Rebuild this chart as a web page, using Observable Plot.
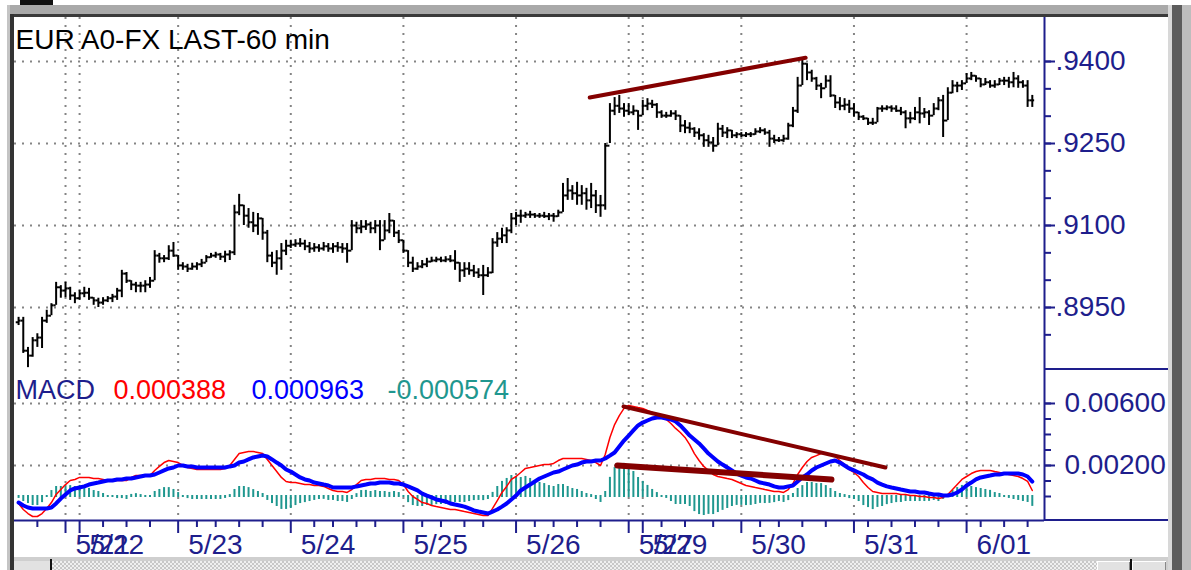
<!DOCTYPE html>
<html><head><meta charset="utf-8">
<script src="https://cdn.jsdelivr.net/npm/d3@7"></script>
<script src="https://cdn.jsdelivr.net/npm/@observablehq/plot@0.6"></script>
<style>
html,body{margin:0;padding:0;background:#fff;}
#root{position:relative;width:1191px;height:570px;overflow:hidden;background:#fff;}
.blk{position:absolute;}
</style></head><body><div id="root"></div>
<script>
// ---------- DATA ----------
const title = "EUR A0-FX LAST-60 min";
const dayStart = [10, 13, 34, 58, 82, 106, 130, 133, 154, 178, 202];
const dayLabel = ["5/21","5/22","5/23","5/24","5/25","5/26","5/27","5/29","5/30","5/31","6/01"];
const minorTicks = [4,18,23,28,38,42,47,52,63,67,72,76,86,90,95,99,110,114,119,124,137,142,148,158,162,167,172,181,186,191,196,205,210,215];
const priceMajor = [0.94, 0.925, 0.91, 0.895];
const priceTickLabels = [".9400", ".9250", ".9100", ".8950"];
const priceMinor = [0.89,0.895,0.9,0.905,0.91,0.915,0.92,0.925,0.93,0.935,0.94];
const macdMajor = [0.006, 0.002];
const macdTickLabels = ["0.00600", "0.00200"];
const macdMinor = [0,0.001,0.002,0.003,0.004,0.005,0.006];
const legendName = "MACD";
const legendValues = ["0.000388", "0.000963", "-0.000574"];

const open = [
.8923,.8926,.8871,.8862,.8890,.8895,.8926,.8935,.8954,.8987,
.8981,.8985,.8972,.8967,.8976,.8977,.8968,.8963,.8959,.8963,
.8967,.8970,.8981,.9012,.8999,.8992,.8990,.8990,.8992,.8999,
.9045,.9040,.9040,.9054,.9045,.9027,.9025,.9021,.9025,.9029,
.9032,.9042,.9045,.9047,.9043,.9047,.9051,.9124,.9137,.9118,
.9106,.9100,.9113,.9087,.9045,.9032,.9040,.9054,.9063,.9065,
.9067,.9067,.9062,.9058,.9060,.9058,.9062,.9058,.9062,.9060,
.9058,.9054,.9100,.9095,.9098,.9102,.9095,.9100,.9073,.9091,
.9109,.9087,.9073,.9054,.9032,.9021,.9025,.9029,.9034,.9036,
.9038,.9036,.9038,.9036,.9032,.9018,.9021,.9018,.9014,.9009,
.9009,.9014,.9069,.9076,.9082,.9091,.9113,.9118,.9118,.9120,
.9120,.9118,.9118,.9117,.9118,.9117,.9124,.9155,.9164,.9159,
.9155,.9159,.9146,.9155,.9137,.9137,.9246,.9310,.9319,.9314,
.9310,.9307,.9310,.9301,.9319,.9323,.9321,.9307,.9301,.9301,
.9305,.9301,.9283,.9279,.9277,.9270,.9265,.9256,.9252,.9246,
.9277,.9270,.9274,.9265,.9267,.9265,.9267,.9267,.9272,.9274,
.9270,.9259,.9256,.9256,.9259,.9283,.9310,.9356,.9396,.9380,
.9369,.9356,.9351,.9365,.9338,.9325,.9319,.9321,.9314,.9307,
.9299,.9296,.9288,.9288,.9314,.9314,.9316,.9314,.9310,.9307,
.9296,.9296,.9307,.9305,.9307,.9301,.9314,.9329,.9292,.9343,
.9356,.9356,.9360,.9369,.9374,.9369,.9358,.9362,.9356,.9358,
.9365,.9365,.9362,.9369,.9362,.9356,.9329];
const high = [
.8932,.8932,.8877,.8895,.8902,.8932,.8945,.8957,.8996,.8990,
.8996,.8987,.8977,.8981,.8987,.8985,.8968,.8967,.8968,.8970,
.8974,.8985,.9018,.9014,.8999,.8996,.8996,.8999,.9005,.9054,
.9049,.9045,.9063,.9069,.9045,.9032,.9029,.9031,.9032,.9038,
.9045,.9049,.9051,.9049,.9053,.9054,.9137,.9157,.9137,.9131,
.9124,.9122,.9113,.9091,.9051,.9054,.9067,.9073,.9073,.9074,
.9076,.9073,.9069,.9067,.9065,.9069,.9067,.9067,.9069,.9067,
.9067,.9109,.9106,.9109,.9109,.9106,.9109,.9109,.9109,.9122,
.9109,.9091,.9073,.9054,.9042,.9032,.9036,.9040,.9042,.9042,
.9042,.9043,.9045,.9054,.9032,.9032,.9032,.9027,.9021,.9027,
.9023,.9076,.9087,.9095,.9096,.9122,.9124,.9128,.9124,.9126,
.9122,.9122,.9124,.9122,.9122,.9128,.9177,.9186,.9173,.9179,
.9173,.9168,.9177,.9164,.9155,.9250,.9323,.9334,.9338,.9323,
.9323,.9319,.9310,.9329,.9332,.9329,.9323,.9310,.9307,.9310,
.9310,.9301,.9292,.9288,.9279,.9277,.9268,.9265,.9261,.9287,
.9283,.9279,.9274,.9270,.9270,.9270,.9270,.9277,.9279,.9277,
.9274,.9265,.9261,.9265,.9287,.9316,.9371,.9407,.9396,.9384,
.9371,.9360,.9374,.9374,.9338,.9334,.9332,.9329,.9323,.9307,
.9301,.9296,.9296,.9316,.9319,.9319,.9319,.9319,.9316,.9310,
.9307,.9316,.9334,.9314,.9310,.9323,.9334,.9338,.9352,.9365,
.9362,.9365,.9378,.9380,.9374,.9369,.9369,.9365,.9365,.9369,
.9371,.9371,.9380,.9374,.9365,.9365,.9338];
const low = [
.8917,.8866,.8840,.8859,.8877,.8875,.8921,.8935,.8954,.8967,
.8968,.8963,.8957,.8963,.8968,.8963,.8954,.8950,.8954,.8959,
.8959,.8963,.8968,.8994,.8981,.8977,.8977,.8977,.8985,.8999,
.9031,.9032,.9036,.9042,.9018,.9018,.9014,.9018,.9018,.9023,
.9032,.9040,.9040,.9036,.9032,.9036,.9045,.9118,.9100,.9095,
.9087,.9082,.9073,.9032,.9023,.9009,.9018,.9045,.9058,.9060,
.9060,.9054,.9049,.9051,.9051,.9053,.9051,.9049,.9051,.9049,
.9031,.9054,.9085,.9085,.9091,.9085,.9085,.9054,.9073,.9085,
.9078,.9067,.9049,.9023,.9014,.9018,.9021,.9023,.9032,.9032,
.9032,.9032,.9032,.9018,.8996,.9005,.9009,.9005,.9003,.8972,
.9005,.9012,.9060,.9067,.9067,.9085,.9100,.9104,.9113,.9113,
.9113,.9113,.9113,.9109,.9106,.9115,.9124,.9146,.9146,.9137,
.9137,.9128,.9131,.9122,.9115,.9128,.9250,.9301,.9305,.9298,
.9301,.9301,.9274,.9301,.9310,.9314,.9296,.9296,.9296,.9298,
.9292,.9270,.9268,.9268,.9261,.9256,.9243,.9243,.9234,.9246,
.9261,.9259,.9259,.9259,.9261,.9261,.9261,.9265,.9268,.9265,
.9243,.9250,.9252,.9252,.9256,.9279,.9305,.9356,.9365,.9362,
.9347,.9332,.9351,.9334,.9314,.9310,.9310,.9305,.9298,.9292,
.9292,.9283,.9283,.9288,.9307,.9310,.9307,.9307,.9301,.9277,
.9286,.9292,.9286,.9296,.9283,.9301,.9310,.9261,.9292,.9341,
.9343,.9347,.9360,.9365,.9362,.9352,.9356,.9351,.9351,.9356,
.9356,.9351,.9352,.9351,.9351,.9316,.9316];
const close = [
.8926,.8871,.8862,.8890,.8895,.8926,.8935,.8954,.8987,.8981,
.8985,.8972,.8967,.8976,.8977,.8968,.8963,.8959,.8963,.8967,
.8970,.8981,.9012,.8999,.8992,.8990,.8990,.8992,.8999,.9045,
.9040,.9040,.9054,.9045,.9027,.9025,.9021,.9025,.9029,.9032,
.9042,.9045,.9047,.9043,.9047,.9051,.9124,.9137,.9118,.9106,
.9100,.9113,.9087,.9045,.9032,.9040,.9054,.9063,.9065,.9067,
.9067,.9062,.9058,.9060,.9058,.9062,.9058,.9062,.9060,.9058,
.9054,.9100,.9095,.9098,.9102,.9095,.9100,.9073,.9091,.9109,
.9087,.9073,.9054,.9032,.9021,.9025,.9029,.9034,.9036,.9038,
.9036,.9038,.9036,.9032,.9018,.9021,.9018,.9014,.9009,.9009,
.9014,.9069,.9076,.9082,.9091,.9113,.9118,.9118,.9120,.9120,
.9118,.9118,.9117,.9118,.9117,.9124,.9155,.9164,.9159,.9155,
.9159,.9146,.9155,.9137,.9137,.9246,.9310,.9319,.9314,.9310,
.9307,.9310,.9301,.9319,.9323,.9321,.9307,.9301,.9301,.9305,
.9301,.9283,.9279,.9277,.9270,.9265,.9256,.9252,.9246,.9277,
.9270,.9274,.9265,.9267,.9265,.9267,.9267,.9272,.9274,.9270,
.9259,.9256,.9256,.9259,.9283,.9310,.9356,.9396,.9380,.9369,
.9356,.9351,.9365,.9338,.9325,.9319,.9321,.9314,.9307,.9299,
.9296,.9288,.9288,.9314,.9314,.9316,.9314,.9310,.9307,.9296,
.9296,.9307,.9305,.9307,.9301,.9314,.9329,.9292,.9343,.9356,
.9356,.9360,.9369,.9374,.9369,.9358,.9362,.9356,.9358,.9365,
.9365,.9362,.9369,.9362,.9356,.9329,.9329];

const macd = [
-0.00045,-0.00084,-0.00110,-0.00129,-0.00129,-0.00110,-0.00077,-0.00039,0.00013,0.00045,
0.00077,0.00103,0.00110,0.00123,0.00123,0.00123,0.00116,0.00116,0.00110,0.00103,
0.00103,0.00103,0.00103,0.00103,0.00123,0.00135,0.00135,0.00135,0.00135,0.00168,
0.00194,0.00219,0.00232,0.00226,0.00219,0.00200,0.00187,0.00181,0.00174,0.00174,
0.00174,0.00174,0.00174,0.00174,0.00181,0.00200,0.00239,0.00277,0.00284,0.00290,
0.00290,0.00284,0.00277,0.00239,0.00200,0.00161,0.00123,0.00097,0.00090,0.00090,
0.00084,0.00077,0.00077,0.00071,0.00071,0.00065,0.00052,0.00039,0.00032,0.00032,
0.00026,0.00045,0.00077,0.00103,0.00110,0.00110,0.00116,0.00116,0.00116,0.00110,
0.00110,0.00103,0.00077,0.00032,0,-0.00019,-0.00039,-0.00045,-0.00058,-0.00065,
-0.00071,-0.00077,-0.00084,-0.00084,-0.00090,-0.00097,-0.00103,-0.00110,-0.00116,-0.00123,
-0.00123,-0.00077,-0.00026,0.00026,0.00065,0.00110,0.00129,0.00155,0.00181,0.00187,
0.00194,0.00200,0.00206,0.00206,0.00213,0.00232,0.00245,0.00245,0.00245,0.00245,
0.00245,0.00239,0.00232,0.00219,0.00200,0.00271,0.00381,0.00464,0.00522,0.00568,
0.00587,0.00581,0.00574,0.00568,0.00555,0.00542,0.00529,0.00510,0.00497,0.00471,
0.00439,0.00413,0.00381,0.00335,0.00277,0.00232,0.00194,0.00168,0.00142,0.00129,
0.00123,0.00116,0.00110,0.00097,0.00084,0.00071,0.00065,0.00058,0.00052,0.00045,
0.00039,0.00032,0.00032,0.00026,0.00045,0.00084,0.00142,0.00187,0.00226,0.00252,
0.00264,0.00277,0.00277,0.00271,0.00258,0.00232,0.00206,0.00174,0.00155,0.00129,
0.00090,0.00058,0.00032,0.00026,0.00019,0.00019,0.00019,0.00019,0.00013,0.00013,
0.00006,0.00006,0,0,-0.00006,-0.00006,-0.00013,-0.00006,0.00013,0.00045,
0.00077,0.00110,0.00129,0.00148,0.00161,0.00168,0.00168,0.00168,0.00161,0.00155,
0.00148,0.00142,0.00135,0.00129,0.00116,0.00097,0.000388];
const signal = [
-0.00039,-0.00058,-0.00071,-0.00077,-0.00077,-0.00077,-0.00077,-0.00071,-0.00045,-0.00013,
0.00013,0.00039,0.00052,0.00058,0.00065,0.00077,0.00084,0.00090,0.00097,0.00103,
0.00103,0.00110,0.00110,0.00116,0.00116,0.00123,0.00129,0.00135,0.00135,0.00142,
0.00155,0.00168,0.00181,0.00187,0.00200,0.00200,0.00194,0.00194,0.00187,0.00187,
0.00187,0.00187,0.00187,0.00187,0.00187,0.00194,0.00200,0.00219,0.00226,0.00239,
0.00252,0.00258,0.00264,0.00258,0.00239,0.00219,0.00200,0.00174,0.00161,0.00142,
0.00123,0.00110,0.00103,0.00090,0.00084,0.00077,0.00071,0.00058,0.00058,0.00058,
0.00058,0.00058,0.00065,0.00071,0.00077,0.00084,0.00084,0.00090,0.00090,0.00090,
0.00084,0.00084,0.00077,0.00065,0.00052,0.00039,0.00019,0.00006,-0.00006,-0.00019,
-0.00026,-0.00032,-0.00045,-0.00052,-0.00058,-0.00065,-0.00077,-0.00090,-0.00097,-0.00103,
-0.00110,-0.00097,-0.00084,-0.00065,-0.00045,-0.00019,0.00006,0.00039,0.00058,0.00077,
0.00097,0.00116,0.00129,0.00142,0.00155,0.00161,0.00174,0.00187,0.00200,0.00206,
0.00219,0.00226,0.00226,0.00232,0.00232,0.00245,0.00264,0.00284,0.00323,0.00361,
0.00393,0.00426,0.00458,0.00477,0.00490,0.00503,0.00510,0.00510,0.00503,0.00497,
0.00484,0.00458,0.00426,0.00393,0.00368,0.00342,0.00310,0.00277,0.00252,0.00226,
0.00206,0.00187,0.00168,0.00148,0.00135,0.00123,0.00116,0.00103,0.00090,0.00084,
0.00077,0.00065,0.00058,0.00058,0.00065,0.00071,0.00097,0.00123,0.00142,0.00168,
0.00187,0.00200,0.00213,0.00226,0.00232,0.00219,0.00200,0.00181,0.00168,0.00155,
0.00142,0.00123,0.00110,0.00090,0.00077,0.00065,0.00058,0.00052,0.00045,0.00039,
0.00032,0.00032,0.00026,0.00026,0.00019,0.00013,0.00013,0.00006,0.00006,0.00013,
0.00026,0.00045,0.00071,0.00090,0.00110,0.00123,0.00129,0.00135,0.00142,0.00142,
0.00148,0.00148,0.00148,0.00148,0.00142,0.00129,0.000963];
const hist = [
-0.00006,-0.00026,-0.00039,-0.00052,-0.00052,-0.00033,0,0.00032,0.00058,0.00058,
0.00064,0.00064,0.00058,0.00065,0.00058,0.00046,0.00032,0.00026,0.00013,0,
0,-0.00007,-0.00007,-0.00013,0.00007,0.00012,0.00006,0,0,0.00026,
0.00039,0.00051,0.00051,0.00039,0.00019,0,-0.00007,-0.00013,-0.00013,-0.00013,
-0.00013,-0.00013,-0.00013,-0.00013,-0.00006,0.00006,0.00039,0.00058,0.00058,0.00051,
0.00038,0.00026,0.00013,-0.00019,-0.00039,-0.00058,-0.00077,-0.00077,-0.00071,-0.00052,
-0.00039,-0.00033,-0.00026,-0.00019,-0.00013,-0.00012,-0.00019,-0.00019,-0.00026,-0.00026,
-0.00032,-0.00013,0.00012,0.00032,0.00033,0.00026,0.00032,0.00026,0.00026,0.00020,
0.00026,0.00019,0,-0.00033,-0.00052,-0.00058,-0.00058,-0.00051,-0.00052,-0.00046,
-0.00045,-0.00045,-0.00039,-0.00032,-0.00032,-0.00032,-0.00026,-0.00020,-0.00019,-0.00020,
-0.00013,0.00020,0.00058,0.00091,0.00110,0.00129,0.00123,0.00116,0.00123,0.00110,
0.00097,0.00084,0.00077,0.00064,0.00058,0.00071,0.00071,0.00058,0.00045,0.00039,
0.00026,0.00013,0.00006,-0.00013,-0.00032,0.00026,0.00117,0.00180,0.00199,0.00207,
0.00194,0.00155,0.00116,0.00091,0.00065,0.00039,0.00019,0,-0.00006,-0.00026,
-0.00045,-0.00045,-0.00045,-0.00058,-0.00091,-0.00110,-0.00116,-0.00109,-0.00110,-0.00097,
-0.00083,-0.00071,-0.00058,-0.00051,-0.00051,-0.00052,-0.00051,-0.00045,-0.00038,-0.00039,
-0.00038,-0.00033,-0.00026,-0.00032,-0.00020,0.00013,0.00045,0.00064,0.00084,0.00084,
0.00077,0.00077,0.00064,0.00045,0.00026,0.00013,0.00006,-0.00007,-0.00013,-0.00026,
-0.00052,-0.00065,-0.00078,-0.00064,-0.00058,-0.00046,-0.00039,-0.00033,-0.00032,-0.00026,
-0.00026,-0.00026,-0.00026,-0.00026,-0.00025,-0.00019,-0.00026,-0.00012,0.00007,0.00032,
0.00051,0.00065,0.00058,0.00058,0.00051,0.00045,0.00039,0.00033,0.00019,0.00013,
0,-0.00006,-0.00013,-0.00019,-0.00026,-0.00032,-0.000574];

const trendPriceI = [121.7, 167.7], trendPriceV = [0.9334, 0.9407];
const trendMacdHighI = [128.9, 184.7], trendMacdHighV = [0.00581, 0.00187];
const trendMacdLowI = [127.6, 173.2], trendMacdLowV = [0.00200, 0.00110];

// ---------- STYLE / LAYOUT ----------
const FONT = "'Liberation Sans', Arial, sans-serif";
const NAVY = "#1e1e8c";
const TREND = "#840000";
const TEAL = "#1f978f";
const FS = 28, FS_AX = 28, FS_LEG = 27;
const xDomain = [-0.87, 218.6];
const priceDomain = [0.88366, 0.94805];
const macdDomain = [-0.001548, 0.008192];
const grid = {stroke: "#858585", strokeWidth: 2, strokeDasharray: "2,6"};

const bars = close.map((c, i) => ({i, open: open[i], high: high[i], low: low[i], close: c}));
const ind = macd.map((m, i) => ({i, macd: m, signal: signal[i], hist: hist[i]}));
const days = dayStart.map((s, k) => ({i: s, label: dayLabel[k]}));
const pts = (I, V) => I.map((i, k) => ({i, v: V[k]}));

const root = document.getElementById("root");
function blk(l, t, w, h, bg, extra) {
  const d = document.createElement("div");
  d.className = "blk";
  d.style.cssText = `left:${l}px;top:${t}px;width:${w}px;height:${h}px;background:${bg};${extra || ""}`;
  root.appendChild(d);
  return d;
}
function place(node, l, t) {
  const w = document.createElement("div");
  w.className = "blk";
  w.style.left = l + "px"; w.style.top = t + "px";
  w.appendChild(node);
  root.appendChild(w);
}

// window chrome
blk(20, 0, 33, 6, "#111");
blk(7, 5, 1163, 9, "#a9a9a9");
blk(10, 14, 1158, 3, "#3a3a3a");
blk(7, 5, 3, 565, "#c4c4c4");
blk(10, 14, 4, 556, "#333");
blk(1168, 5, 4, 565, "#d8d8d8");
blk(1172, 5, 10, 565, "#5c5c5c");
blk(1182, 5, 9, 565, "#bdbdbd");
blk(14, 557, 1154, 13, "#cfcfcf");
blk(52, 561, 1045, 9, "#e6e6e6", "background-image:repeating-conic-gradient(#c8c8c8 0 25%, #f0f0f0 0 50%);background-size:4px 4px;");
blk(14, 561, 36, 9, "#e2e2e2");
blk(50, 559, 2, 11, "#111");
blk(1097, 561, 33, 9, "#e2e2e2", "box-shadow:inset 1px 1px 0 #fff, inset -1px 0 0 #888;");
blk(1130, 559, 2, 11, "#111");
blk(1132, 561, 34, 9, "#e2e2e2", "box-shadow:inset 1px 1px 0 #fff, inset -1px 0 0 #888;");

// ---------- PRICE PANEL ----------
const pricePlot = Plot.plot({
  width: 1154, height: 352,
  marginLeft: 0, marginRight: 124, marginTop: 0, marginBottom: 0,
  x: {domain: xDomain, axis: null},
  y: {domain: priceDomain, axis: null},
  style: {fontFamily: FONT, fontSize: FS + "px", color: NAVY, background: "transparent"},
  marks: [
    Plot.ruleX(dayStart, grid),
    Plot.ruleY(priceMajor, grid),
    Plot.ruleX(bars, {x: "i", y1: "low", y2: "high", stroke: "#000", strokeWidth: 2}),
    Plot.ruleY(bars, {y: "open", x1: d => d.i - 0.5, x2: "i", stroke: "#000", strokeWidth: 2}),
    Plot.ruleY(bars, {y: "close", x1: "i", x2: d => d.i + 0.5, stroke: "#000", strokeWidth: 2}),
    Plot.line(pts(trendPriceI, trendPriceV), {x: "i", y: "v", stroke: TREND, strokeWidth: 4}),
    Plot.ruleX([xDomain[1]], {stroke: NAVY, strokeWidth: 2}),
    Plot.axisY({anchor: "right", label: null, ticks: priceMinor, tickSize: 6, tickFormat: () => "", strokeWidth: 2, fontSize: FS_AX}),
    Plot.axisY({anchor: "right", label: null, ticks: priceMajor, tickSize: 10, tickPadding: 1, strokeWidth: 2, fontSize: FS_AX,
      tickFormat: d => priceTickLabels[priceMajor.indexOf(d)]}),
    Plot.text([title], {text: d => d, frameAnchor: "top-left", dx: 1, dy: 31, lineAnchor: "bottom", textAnchor: "start", fill: "#000", fontSize: FS})
  ]
});
place(pricePlot, 14, 17);

// ---------- MACD PANEL ----------
const legendX = [1, 99, 237, 373];
const legendFill = [NAVY, "#ff0000", "#0000ff", TEAL];
const legendText = [legendName, ...legendValues];
const macdPlot = Plot.plot({
  width: 1154, height: 201,
  marginLeft: 0, marginRight: 124, marginTop: 0, marginBottom: 50,
  x: {domain: xDomain, axis: null},
  y: {domain: macdDomain, axis: null},
  style: {fontFamily: FONT, fontSize: FS + "px", color: NAVY, background: "transparent"},
  marks: [
    Plot.ruleX(dayStart, grid),
    Plot.ruleY(macdMajor, grid),
    Plot.ruleX(ind, {x: "i", y1: 0, y2: "hist", stroke: TEAL, strokeWidth: 2, strokeLinecap: "square"}),
    Plot.line(ind, {x: "i", y: "macd", stroke: "#ff0000", strokeWidth: 1.5}),
    Plot.line(ind, {x: "i", y: "signal", stroke: "#0000ff", strokeWidth: 4}),
    Plot.line(pts(trendMacdHighI, trendMacdHighV), {x: "i", y: "v", stroke: TREND, strokeWidth: 4}),
    Plot.line(pts(trendMacdLowI, trendMacdLowV), {x: "i", y: "v", stroke: TREND, strokeWidth: 6}),
    Plot.ruleX([xDomain[1]], {stroke: NAVY, strokeWidth: 2}),
    Plot.ruleY([macdDomain[0]], {stroke: NAVY, strokeWidth: 2}),
    Plot.axisY({anchor: "right", label: null, ticks: macdMinor, tickSize: 6, tickFormat: () => "", strokeWidth: 2, fontSize: FS_AX}),
    Plot.axisY({anchor: "right", label: null, ticks: macdMajor, tickSize: 10, tickPadding: 10, strokeWidth: 2, fontSize: FS_AX,
      tickFormat: d => macdTickLabels[macdMajor.indexOf(d)]}),
    Plot.axisX({anchor: "bottom", label: null, ticks: minorTicks, tickSize: 7, tickFormat: () => "", strokeWidth: 2, fontSize: FS}),
    Plot.axisX({anchor: "bottom", label: null, ticks: dayStart, tickSize: 13, tickFormat: () => "", strokeWidth: 2, fontSize: FS}),
    Plot.text(days, {x: "i", text: "label", frameAnchor: "bottom", lineAnchor: "bottom", textAnchor: "start", dx: 10, dy: 33, fill: NAVY, fontSize: FS}),
    ...legendText.map((t, k) => Plot.text([t], {text: d => d, frameAnchor: "top-left", dx: legendX[k], dy: 29, lineAnchor: "bottom", textAnchor: "start", fill: legendFill[k], fontSize: FS_LEG}))
  ]
});
place(macdPlot, 14, 369);

// separators in label column
blk(1044, 368, 124, 2, NAVY);
blk(1044, 519, 124, 2, NAVY);
</script>
</body></html>
